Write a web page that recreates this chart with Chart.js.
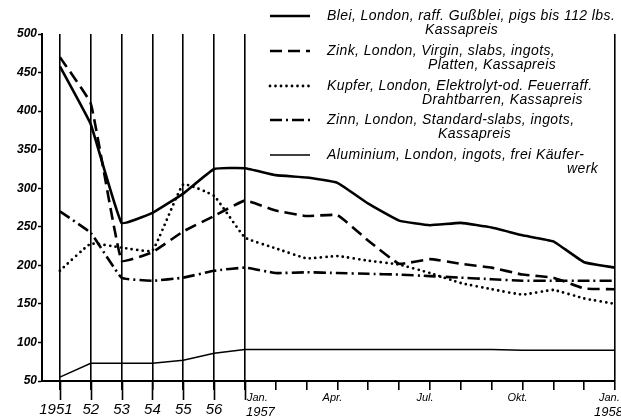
<!DOCTYPE html>
<html>
<head>
<meta charset="utf-8">
<script src="https://cdn.jsdelivr.net/npm/chart.js@4"></script>
<style>
  html, body { margin: 0; padding: 0; background: #fff; }
  #wrap { width: 621px; height: 420px; position: relative; }
</style>
</head>
<body>
<div id="wrap"><canvas id="metalChart" width="621" height="420"></canvas></div>
<script>
// x positions: 1951..1956 yearly, then Jan 1957 .. Jan 1958 monthly
const xLabels = ['1951', '52', '53', '54', '55', '56', 'Jan.|1957', '', '', 'Apr.', '', '', 'Jul.', '', '', 'Okt.', '', '', 'Jan.|1958'];
const yTicks = [50, 100, 150, 200, 250, 300, 350, 400, 450, 500];

// series values
const blei      = [458, 383, 255, 268, 293, 325, 326, 317, 314, 307, 280, 258, 252, 255, 249, 239, 231, 204, 197];
const zink      = [470, 410, 206, 217, 244, 264, 284, 271, 264, 265, 232, 202, 208, 202, 197, 188, 184, 170, 169];
const kupfer    = [193, 228, 223, 219, 305, 290, 236, 222, 209, 212, 206, 201, 190, 177, 169, 162, 168, 157, 150];
const zinn      = [270, 242, 184, 180, 184, 193, 197, 190, 191, 190, 189, 188, 186, 184, 182, 180, 180, 180, 180];
const aluminium = [55, 73, 73, 73, 77, 86, 91, 91, 91, 91, 91, 91, 91, 91, 91, 90, 90, 90, 90];

const legendLines = [
    ['Blei, London, raff. Gußblei, pigs bis 112 lbs.', 'Kassapreis'],
    ['Zink, London, Virgin, slabs, ingots,', 'Platten, Kassapreis'],
    ['Kupfer, London, Elektrolyt-od. Feuerraff.', 'Drahtbarren, Kassapreis'],
    ['Zinn, London, Standard-slabs, ingots,', 'Kassapreis'],
    ['Aluminium, London, ingots, frei Käufer-', 'werk']
];

const toPoints = arr => arr.map((v, i) => ({ x: i, y: v }));

// **Custom drawing: year lines below axis, x labels, legend**
const decorPlugin = {
    id: 'decor',
    afterDraw(chart) {
        const ctx = chart.ctx;
        const xs = chart.scales.x;
        const area = chart.chartArea;
        ctx.save();
        ctx.strokeStyle = '#000';

        // year lines continue below the axis
        ctx.lineWidth = 1.6;
        for (let i = 0; i <= 6; i++) {
            const px = Math.round(xs.getPixelForValue(i)) + 0.5;
            ctx.beginPath();
            ctx.moveTo(px, area.bottom);
            ctx.lineTo(px, area.bottom + 19);
            ctx.stroke();
        }

        // x labels
        ctx.fillStyle = '#000';
        ctx.textBaseline = 'middle';
        xLabels.forEach((lab, i) => {
            if (!lab) return;
            const px = xs.getPixelForValue(i);
            if (i <= 5) {
                ctx.font = 'italic 15px "Liberation Sans"';
                ctx.textAlign = 'center';
                ctx.fillText(lab, px - (i === 0 ? 4 : 0), area.bottom + 29);
            } else {
                const parts = lab.split('|');
                ctx.font = 'italic 11px "Liberation Sans"';
                if (i === 6) {
                    ctx.textAlign = 'left';
                    ctx.fillText(parts[0], px + 2, area.bottom + 17);
                    ctx.font = 'italic 13px "Liberation Sans"';
                    ctx.fillText(parts[1], px + 1, area.bottom + 31);
                } else if (i === 18) {
                    ctx.textAlign = 'left';
                    ctx.fillText(parts[0], px - 16, area.bottom + 17);
                    ctx.font = 'italic 13px "Liberation Sans"';
                    ctx.fillText(parts[1], px - 21, area.bottom + 31);
                } else {
                    ctx.textAlign = 'center';
                    ctx.fillText(parts[0], px - 5, area.bottom + 17);
                }
            }
        });

        // legend
        const styles = chart.data.datasets;
        const rowY = [16, 51, 86, 120, 155];
        const indent = [425, 428, 422, 438, 567];
        legendLines.forEach((lines, k) => {
            const ds = styles[k];
            const y = rowY[k];
            ctx.lineWidth = ds.borderWidth;
            ctx.lineCap = ds.borderCapStyle || 'butt';
            ctx.setLineDash(ds.borderDash || []);
            ctx.beginPath();
            ctx.moveTo(270, y);
            ctx.lineTo(310, y);
            ctx.stroke();
            ctx.setLineDash([]);
            ctx.lineCap = 'butt';
            ctx.font = 'italic 14px "Liberation Sans"';
            ctx.letterSpacing = '0.4px';
            ctx.textAlign = 'left';
            ctx.fillText(lines[0], 327, y);
            ctx.fillText(lines[1], indent[k], y + 14);
            ctx.letterSpacing = '0px';
        });
        ctx.restore();
    }
};

const common = { pointRadius: 0, borderColor: '#000', fill: false, tension: 0.1 };

new Chart(document.getElementById('metalChart').getContext('2d'), {
    type: 'line',
    data: {
        datasets: [
            { ...common, label: 'Blei', data: toPoints(blei), borderWidth: 2.6 },
            { ...common, label: 'Zink', data: toPoints(zink), borderWidth: 2.6, borderDash: [12, 6] },
            { ...common, label: 'Kupfer', data: toPoints(kupfer), borderWidth: 2.8, borderDash: [0, 5.5], borderCapStyle: 'round' },
            { ...common, label: 'Zinn', data: toPoints(zinn), borderWidth: 2.6, borderDash: [12, 4, 2, 4] },
            { ...common, label: 'Aluminium', data: toPoints(aluminium), borderWidth: 1.5, tension: 0 }
        ]
    },
    options: {
        responsive: false,
        animation: false,
        layout: { padding: { top: 34, right: 6, left: 0, bottom: 0 } },
        plugins: { legend: { display: false }, tooltip: { enabled: false } },
        scales: {
            x: {
                type: 'linear',
                min: -0.58,
                max: 18,
                afterBuildTicks: axis => { axis.ticks = xLabels.map((_, i) => ({ value: i })); },
                afterFit: axis => { axis.height = 39; },
                ticks: { display: false },
                border: { display: true, color: '#000', width: 2 },
                grid: {
                    color: c => (c.tick && (c.tick.value <= 6 || c.tick.value === 18)) ? '#000' : 'rgba(0,0,0,0)',
                    lineWidth: 1.6,
                    drawTicks: true,
                    tickLength: 9,
                    tickColor: '#000',
                    tickWidth: 1.6
                }
            },
            y: {
                min: 50,
                max: 500,
                afterBuildTicks: axis => { axis.ticks = yTicks.map(v => ({ value: v })); },
                afterFit: axis => { axis.width = 42; },
                ticks: {
                    color: '#000',
                    padding: 1,
                    font: { family: 'Liberation Sans', size: 12, style: 'italic', weight: 'bold' }
                },
                border: { display: true, color: '#000', width: 2 },
                grid: { drawOnChartArea: false, tickLength: 4, tickColor: '#000', tickWidth: 1.5 }
            }
        }
    },
    plugins: [decorPlugin]
});
</script>
</body>
</html>
